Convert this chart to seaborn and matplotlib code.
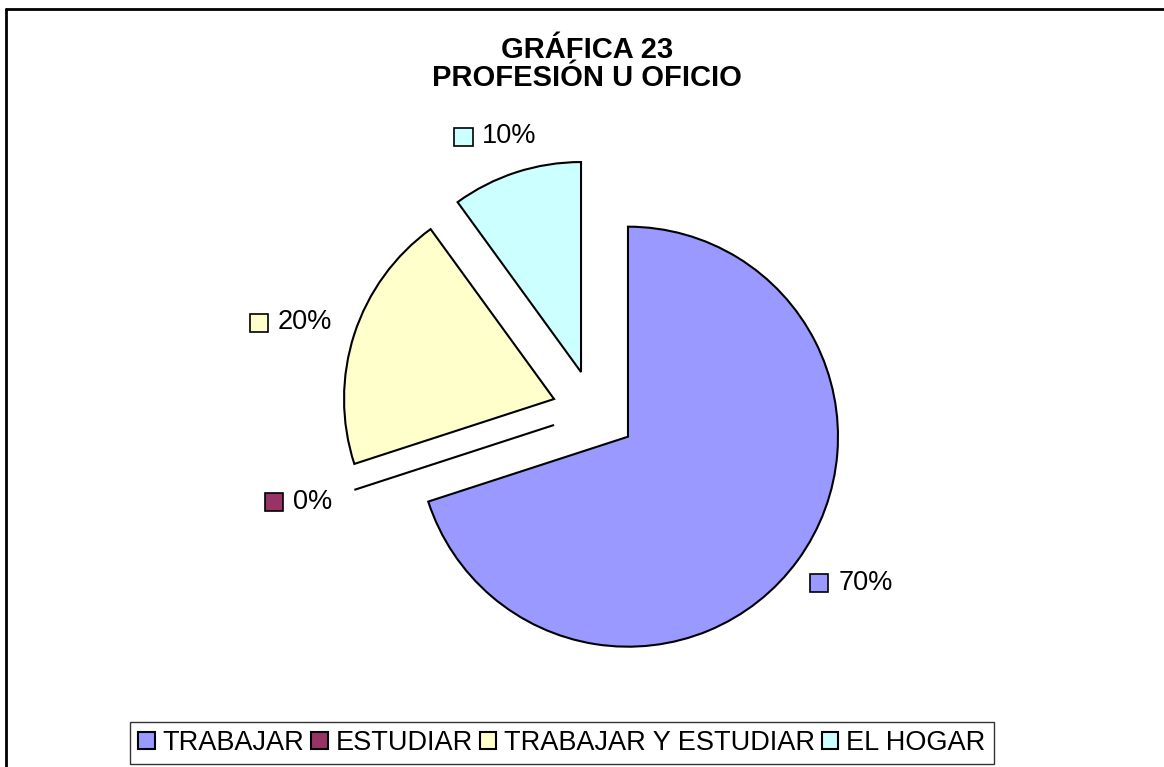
import matplotlib
matplotlib.use("Agg")
import matplotlib.pyplot as plt
import seaborn as sns
import numpy as np
from matplotlib.lines import Line2D
from matplotlib.patches import Rectangle
from matplotlib.offsetbox import DrawingArea, TextArea, HPacker, AnnotationBbox

# data
categories = ["TRABAJAR", "ESTUDIAR", "TRABAJAR Y ESTUDIAR", "EL HOGAR"]
values = [70, 0, 20, 10]
colors = ["#9999FF", "#993366", "#FFFFCC", "#CCFFFF"]
title = "GRÁFICA 23\nPROFESIÓN U OFICIO"

sns.set_theme(style="white")
plt.rcParams['font.family'] = ['Liberation Sans', 'DejaVu Sans']
plt.rcParams['text.color'] = 'black'

W, H = 1164, 767
fig = plt.figure(figsize=(W / 100, H / 100), dpi=100)
ax = fig.add_axes([0, 0, 1, 1])

# pie in pixel-like coordinates (y up); explode is absolute in data units
cx, cy, r = 594, H - 412, 210
wedges, _ = ax.pie(values, colors=colors, startangle=90, counterclock=False,
                   explode=[0.2 * r] * len(values), center=(cx, cy), radius=r,
                   wedgeprops=dict(edgecolor="black", linewidth=1.5))
ax.set_xlim(0, W)
ax.set_ylim(0, H)
ax.set_aspect("equal")
ax.axis("off")

# percent labels with a little colour key, just outside each exploded slice
total = sum(values)
for w, v, c in zip(wedges, values, colors):
    mid = np.deg2rad((w.theta1 + w.theta2) / 2)
    ux, uy = np.cos(mid), np.sin(mid)
    wx, wy = w.center
    da = DrawingArea(14, 14, 0, 0)
    da.add_artist(Rectangle((0, 0), 13, 13, facecolor=c, edgecolor="black", linewidth=1.2))
    ta = TextArea(f"{v / total * 100:.0f}%", textprops=dict(fontsize=19.5, color="black"))
    box = HPacker(children=[da, ta], align="center", pad=0, sep=6)
    ab = AnnotationBbox(box, (wx + 1.12 * r * ux, wy + 1.12 * r * uy), frameon=False,
                        box_alignment=(0.5 - 0.5 * ux, 0.5 - 0.5 * uy))
    ax.add_artist(ab)

fig.text(587 / W, 1 - 64 / H, title, ha="center", va="center", color="black",
         fontsize=21, fontweight="bold", linespacing=1.02)

leg = fig.legend(wedges, categories, loc="lower center", bbox_to_anchor=(562 / W, 0.0),
                 ncol=4, fontsize=19.5, frameon=True, fancybox=False,
                 handlelength=0.6, handleheight=0.6, handletextpad=0.3,
                 columnspacing=0.25, borderpad=0.3, borderaxespad=0.1)
leg.get_frame().set_edgecolor("black")
leg.get_frame().set_linewidth(1.0)

# chart area border (left and top visible in the reference)
fig.add_artist(Line2D([6 / W, 6 / W], [0, 1 - 9 / H], color="black", linewidth=2))
fig.add_artist(Line2D([6 / W, 1], [1 - 9 / H, 1 - 9 / H], color="black", linewidth=2))

fig.savefig("out.png", dpi=100)
